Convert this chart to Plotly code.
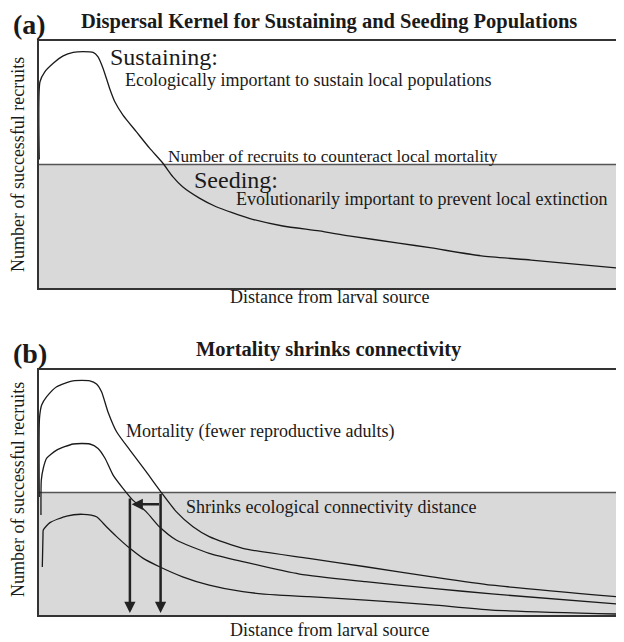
import plotly.graph_objects as go

# ---------------- data (arbitrary units: distance 0-100, recruits 0-100) ----------------
threshold = 50

# Panel (a): dispersal kernel
a_dist = [0.05, 0.17, 1.03, 2.46, 4.18, 5.90, 7.62, 9.35, 10.2, 11.07, 12.2, 13.1, 14.5, 16.8,
          19.1, 21.4, 23.1, 24.8, 27.7, 30.6, 36.3, 42.1, 48.4, 53.5, 62.1, 67.8, 76.4, 85.0, 99.8]
a_recr = [52.0, 83.5, 87.6, 91.0, 94.0, 95.4, 95.7, 95.4, 93.6, 88.9, 80.8, 75.4, 70.0, 63.3,
          56.6, 50.5, 45.1, 41.0, 36.4, 32.9, 28.2, 25.1, 23.1, 21.1, 18.2, 16.2, 13.0, 11.3, 8.1]

# Panel (b): three kernels with increasing mortality
b1_dist = [0.05, 0.09, 0.46, 1.33, 3.05, 5.90, 8.78, 9.93, 10.8, 11.9, 13.4, 15.7, 18.5, 21.1,
           23.7, 26.6, 29.4, 35.2, 46.6, 56.4, 67.9, 78.2, 99.8]
b1_recr = [48.2, 80.4, 85.7, 89.1, 93.2, 95.6, 95.6, 94.3, 91.1, 83.0, 74.8, 67.3, 58.5, 50.1,
           42.2, 36.0, 32.0, 27.2, 23.1, 19.7, 15.6, 12.2, 7.5]

b2_dist = [0.34, 0.40, 0.74, 1.33, 3.05, 5.90, 8.78, 10.2, 11.4, 12.8, 14.5, 16.2, 18.5, 20.8,
           23.7, 29.4, 35.2, 45.0, 56.4, 67.9, 78.2, 99.8]
b2_recr = [40.8, 55.1, 59.9, 64.0, 67.3, 69.8, 69.8, 68.0, 64.0, 57.1, 51.7, 46.9, 42.2, 36.0,
           30.6, 25.2, 21.8, 16.7, 13.6, 10.9, 8.6, 4.5]

b3_dist = [0.57, 0.69, 0.74, 1.89, 4.77, 7.62, 9.93, 11.65, 13.4, 15.7, 18.0, 20.8, 24.8, 29.4,
           35.2, 40.9, 46.6, 56.4, 67.9, 78.2, 99.8]
b3_recr = [19.6, 32.7, 34.7, 37.7, 40.4, 41.1, 40.1, 36.0, 32.0, 27.2, 23.1, 19.7, 15.6, 12.2,
           9.5, 8.2, 7.5, 6.1, 4.1, 2.0, 0.4]

# connectivity distances (where kernels cross the threshold) used for arrows
conn_before = 21.0
conn_after = 15.7

# ---------------- figure ----------------
FONT = "Liberation Serif"
INK = "#1a1a1a"
GRAY = "rgb(217,217,217)"

fig = go.Figure()

def add_panel(xax, yax, curves):
    fig.add_trace(go.Scatter(x=[0, 100, 100, 0], y=[0, 0, threshold, threshold], fill="toself",
                             fillcolor=GRAY, line=dict(width=0), mode="lines",
                             hoverinfo="skip", showlegend=False, xaxis=xax, yaxis=yax))
    fig.add_trace(go.Scatter(x=[0, 100], y=[threshold, threshold], mode="lines",
                             line=dict(color="#555555", width=1.5), hoverinfo="skip",
                             showlegend=False, xaxis=xax, yaxis=yax))
    for xs, ys in curves:
        fig.add_trace(go.Scatter(x=xs, y=ys, mode="lines",
                                 line=dict(color=INK, width=1.3, shape="spline", smoothing=0.6),
                                 showlegend=False, xaxis=xax, yaxis=yax))

add_panel("x", "y", [(a_dist, a_recr)])
add_panel("x2", "y2", [(b1_dist, b1_recr), (b2_dist, b2_recr), (b3_dist, b3_recr)])

axis_common = dict(range=[0, 100], showgrid=False, zeroline=False, showticklabels=False,
                   ticks="", showline=True, linecolor="#333333", linewidth=1.5, mirror=True,
                   fixedrange=True)

# page body has an 8px default margin, so the figure is 8px smaller each way
fig.update_layout(
    width=616, height=634,
    margin=dict(l=31, r=4, t=33, b=27),
    paper_bgcolor="white", plot_bgcolor="white",
    font=dict(family=FONT, color=INK),
    xaxis=dict(domain=[0, 1], anchor="y", **axis_common),
    yaxis=dict(domain=[0.5697, 1.0], anchor="x", **axis_common),
    xaxis2=dict(domain=[0, 1], anchor="y2", **axis_common),
    yaxis2=dict(domain=[0.0, 0.4268], anchor="x2", **axis_common),
    showlegend=False,
)

ann = []
def txt(text, x, y, size, xref="x", yref="y", xanchor="left", yanchor="middle", bold=False, angle=0):
    ann.append(dict(text=("<b>%s</b>" % text) if bold else text, x=x, y=y, xref=xref, yref=yref,
                    xanchor=xanchor, yanchor=yanchor, showarrow=False, textangle=angle,
                    font=dict(family=FONT, size=size, color=INK)))

# panel (a) text
txt("Sustaining:", 11.9, 93.5, 24)
txt("Ecologically important to sustain local populations", 14.5, 84.2, 18)
txt("Number of recruits to counteract local mortality", 21.9, 53.4, 17.2)
txt("Seeding:", 26.5, 43.7, 24)
txt("Evolutionarily important to prevent local extinction", 33.7, 35.9, 18)
# panel (b) text
txt("Mortality (fewer reproductive adults)", 14.6, 74.8, 18, xref="x2", yref="y2")
txt("Shrinks ecological connectivity distance", 25.0, 44.2, 18, xref="x2", yref="y2")

# titles and labels
txt("Dispersal Kernel for Sustaining and Seeding Populations", 0.5009, 1.0348, 20.5,
    xref="paper", yref="paper", xanchor="center", bold=True)
txt("Mortality shrinks connectivity", 0.5009, 0.4617, 20.5, xref="paper", yref="paper",
    xanchor="center", bold=True)
txt("(a)", -0.0163, 1.0296, 28, xref="paper", yref="paper", xanchor="center", bold=True)
txt("(b)", -0.0163, 0.4564, 28, xref="paper", yref="paper", xanchor="center", bold=True)
txt("Distance from larval source", 0.5009, 0.554, 18, xref="paper", yref="paper", xanchor="center")
txt("Distance from larval source", 0.5009, -0.0261, 18, xref="paper", yref="paper", xanchor="center")
txt("Number of successful recruits", -0.0361, 0.784, 18, xref="paper", yref="paper",
    xanchor="center", angle=-90)
txt("Number of successful recruits", -0.0361, 0.2178, 18, xref="paper", yref="paper",
    xanchor="center", angle=-90)

# arrows in panel (b)
arrow_style = dict(showarrow=True, arrowhead=2, arrowsize=0.9, arrowwidth=2.5, arrowcolor="#222222",
                   text="", xref="x2", yref="y2", axref="x2", ayref="y2")
ann.append(dict(x=conn_before, y=0.8, ax=conn_before, ay=threshold, **arrow_style))
ann.append(dict(x=conn_after, y=0.8, ax=conn_after, ay=48.2, **arrow_style))
ann.append(dict(x=conn_after + 0.3, y=45.2, ax=conn_before, ay=45.2, **arrow_style))

fig.update_layout(annotations=ann)
fig.write_html("out.html")
